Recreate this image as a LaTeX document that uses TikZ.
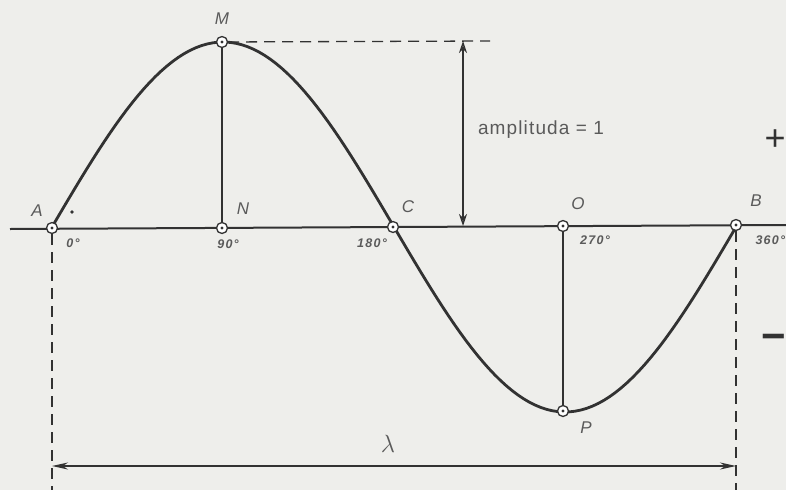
\documentclass[tikz,border=0pt]{standalone}
\usepackage{fontspec}
\setmainfont{Liberation Sans}
\usetikzlibrary{arrows.meta}
\definecolor{bg}{RGB}{238,238,235}
\definecolor{ink}{RGB}{50,50,50}
\definecolor{txt}{RGB}{90,90,90}
\begin{document}
\begin{tikzpicture}[x=1pt,y=-1pt,
  pt/.style={circle,draw=ink,fill=white,line width=1.3pt,inner sep=0pt,minimum size=11pt,
    path picture={\fill[ink] (path picture bounding box.center) circle (1.6pt);}},
  lab/.style={text=txt,font=\itshape\fontsize{17}{17}\selectfont},
  deg/.style={text=txt,font=\bfseries\itshape\fontsize{12.5}{12.5}\selectfont\addfontfeature{LetterSpace=10}},
  dashln/.style={ink,line width=1.3pt,dash pattern=on 11pt off 7pt}]
\fill[bg] (0,0) rectangle (786,490);
\useasboundingbox (0,0) rectangle (786,490);
% axis
\coordinate (L) at (10,229);
\coordinate (R) at (786,225);
\draw[ink,line width=2pt] (L) -- (R);
% wave
\draw[ink,line width=2.8pt] plot[domain=0:360,samples=120] ({52+1.9*\x},{227-185*sin(\x)});
% guide coordinates
\coordinate (Mend) at (490,41);
\coordinate (Abot) at (52,490);
\coordinate (Bbot) at (736,490);
\coordinate (ampTop) at (463,41);
\coordinate (ampBot) at (463,226);
\coordinate (lamL) at (52,466);
\coordinate (lamR) at (736,466);
% points
\node[pt] (A) at (52,228) {};
\node[pt] (N) at (222,228) {};
\node[pt] (C) at (393,227) {};
\node[pt] (O) at (563,226) {};
\node[pt] (B) at (736,225) {};
\node[pt] (M) at (222,42) {};
\node[pt] (P) at (563,411) {};
% verticals
\draw[ink,line width=1.4pt] (M) -- (N);
\draw[ink,line width=1.4pt] (O) -- (P);
\draw[dashln] (M) -- (Mend);
\draw[dashln] (A) -- (Abot);
\draw[dashln] (B) -- (Bbot);
% amplitude arrow
\draw[ink,line width=1.5pt,{Stealth[length=12pt,width=8pt,open]}-{Stealth[length=12pt,width=8pt,open]}] (ampTop) -- (ampBot);
% lambda arrow
\draw[ink,line width=2pt,{Stealth[length=16pt,width=7pt]}-{Stealth[length=16pt,width=7pt]}] (lamL) -- (lamR);
% labels
\node[lab] (tA) at (37,211) {A};
\node[lab] (tN) at (243,209) {N};
\node[lab] (tC) at (408,207) {C};
\node[lab] (tO) at (578,204) {O};
\node[lab] (tB) at (756,201) {B};
\node[lab] (tM) at (222,19) {M};
\node[lab] (tP) at (586,428) {P};
\node[text=txt,font=\fontsize{26}{26}\selectfont] (tl) at (388,444) {$\lambda$};
\node[deg] (d0) at (73,243) {0°};
\node[deg] (d90) at (228,244) {90°};
\node[deg] (d180) at (372,243) {180°};
\node[deg] (d270) at (595,240) {270°};
\node[deg,anchor=west] (d360) at (752,240) {360°};
\node[text=txt,font=\fontsize{19}{19}\selectfont\addfontfeature{LetterSpace=6}] (amp) at (541,130) {amplituda = 1};
\node[text=ink,font=\fontsize{36}{36}\selectfont] (plus) at (775,140) {+};
\node[text=ink,font=\bfseries\fontsize{42}{42}\selectfont,inner sep=0pt,anchor=east] (minus) at (786,342) {−};
\fill[ink] (72,212) circle (1.8pt);
\end{tikzpicture}
\end{document}
